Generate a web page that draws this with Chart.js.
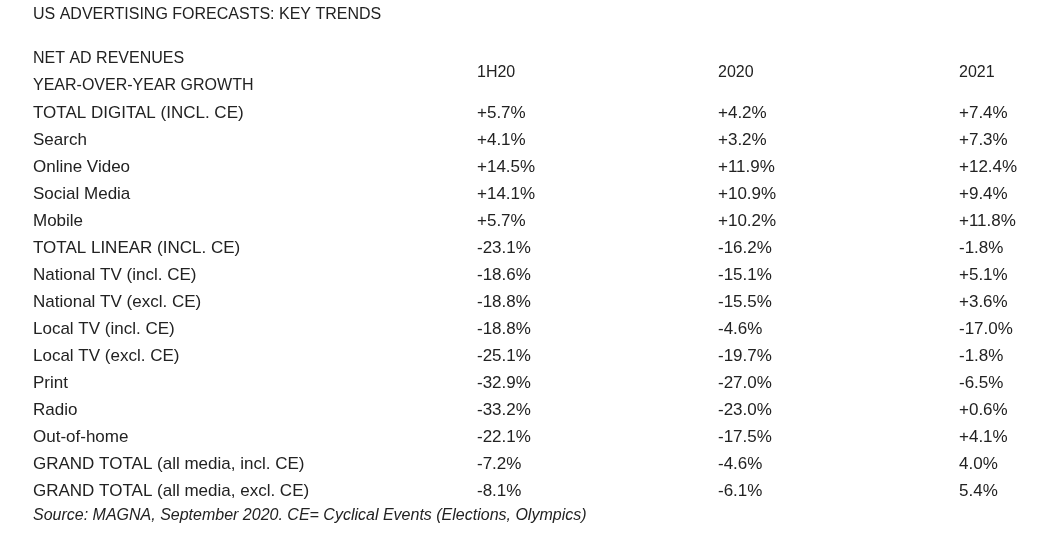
<!DOCTYPE html>
<html>
<head>
<meta charset="utf-8">
<script src="https://cdn.jsdelivr.net/npm/chart.js@4"></script>
<style>
  html, body { margin: 0; padding: 0; background: #fff; }
  #wrap { width: 1041px; height: 543px; }
</style>
</head>
<body>
<div id="wrap"><canvas id="tableChart"></canvas></div>
<script>
const title = "US ADVERTISING FORECASTS: KEY TRENDS";
const headerLines = ["NET AD REVENUES", "YEAR-OVER-YEAR GROWTH"];
const columns = ["1H20", "2020", "2021"];
const rows = [
    "TOTAL DIGITAL (INCL. CE)", "Search", "Online Video", "Social Media", "Mobile",
    "TOTAL LINEAR (INCL. CE)", "National TV (incl. CE)", "National TV (excl. CE)",
    "Local TV (incl. CE)", "Local TV (excl. CE)", "Print", "Radio", "Out-of-home",
    "GRAND TOTAL (all media, incl. CE)", "GRAND TOTAL (all media, excl. CE)",
];
const h1_20 = ["+5.7%", "+4.1%", "+14.5%", "+14.1%", "+5.7%", "-23.1%", "-18.6%", "-18.8%", "-18.8%", "-25.1%", "-32.9%", "-33.2%", "-22.1%", "-7.2%", "-8.1%"];
const y2020 = ["+4.2%", "+3.2%", "+11.9%", "+10.9%", "+10.2%", "-16.2%", "-15.1%", "-15.5%", "-4.6%", "-19.7%", "-27.0%", "-23.0%", "-17.5%", "-4.6%", "-6.1%"];
const y2021 = ["+7.4%", "+7.3%", "+12.4%", "+9.4%", "+11.8%", "-1.8%", "+5.1%", "+3.6%", "-17.0%", "-1.8%", "-6.5%", "+0.6%", "+4.1%", "4.0%", "5.4%"];
const source = "Source: MAGNA, September 2020. CE= Cyclical Events (Elections, Olympics)";

const series = [h1_20, y2020, y2021];
const FONT = "'Liberation Sans', sans-serif";
const INK = "#222";

// every table cell is a point; text is drawn at the point's scale position
const datasets = series.map((vals, c) => ({
    data: vals.map((v, i) => ({ x: c + 1, y: i, text: v })),
    pointRadius: 0,
}));

const tableText = {
    id: "tableText",
    afterDatasetsDraw(chart) {
        const { ctx, scales: { x, y } } = chart;
        ctx.save();
        ctx.fillStyle = INK;
        ctx.textBaseline = "middle";
        ctx.textAlign = "left";
        ctx.font = "16px " + FONT;
        ctx.fillText(title, 33, 15);
        headerLines.forEach((t, i) => ctx.fillText(t, 33, y.getPixelForValue(i - 2)));
        columns.forEach((t, c) => ctx.fillText(t, x.getPixelForValue(c + 1), y.getPixelForValue(-1.5)));
        ctx.font = "17px " + FONT;
        rows.forEach((t, i) => ctx.fillText(t, 33, y.getPixelForValue(i)));
        chart.data.datasets.forEach((ds, di) => {
            chart.getDatasetMeta(di).data.forEach((pt, i) => {
                ctx.fillText(ds.data[i].text, pt.x, pt.y);
            });
        });
        ctx.font = "italic 16px " + FONT;
        ctx.fillText(source, 33, y.getPixelForValue(rows.length - 0.1));
        ctx.restore();
    },
};

new Chart(document.getElementById("tableChart"), {
    type: "scatter",
    data: { datasets },
    options: {
        responsive: true,
        maintainAspectRatio: false,
        animation: false,
        layout: { padding: { left: 236, right: 82, top: 99.5, bottom: 38.5 } },
        plugins: { legend: { display: false }, tooltip: { enabled: false } },
        scales: {
            x: { type: "linear", min: 0, max: 3, display: false },
            y: { type: "linear", min: -0.5, max: rows.length - 0.5, reverse: true, display: false },
        },
    },
    plugins: [tableText],
});
</script>
</body>
</html>
